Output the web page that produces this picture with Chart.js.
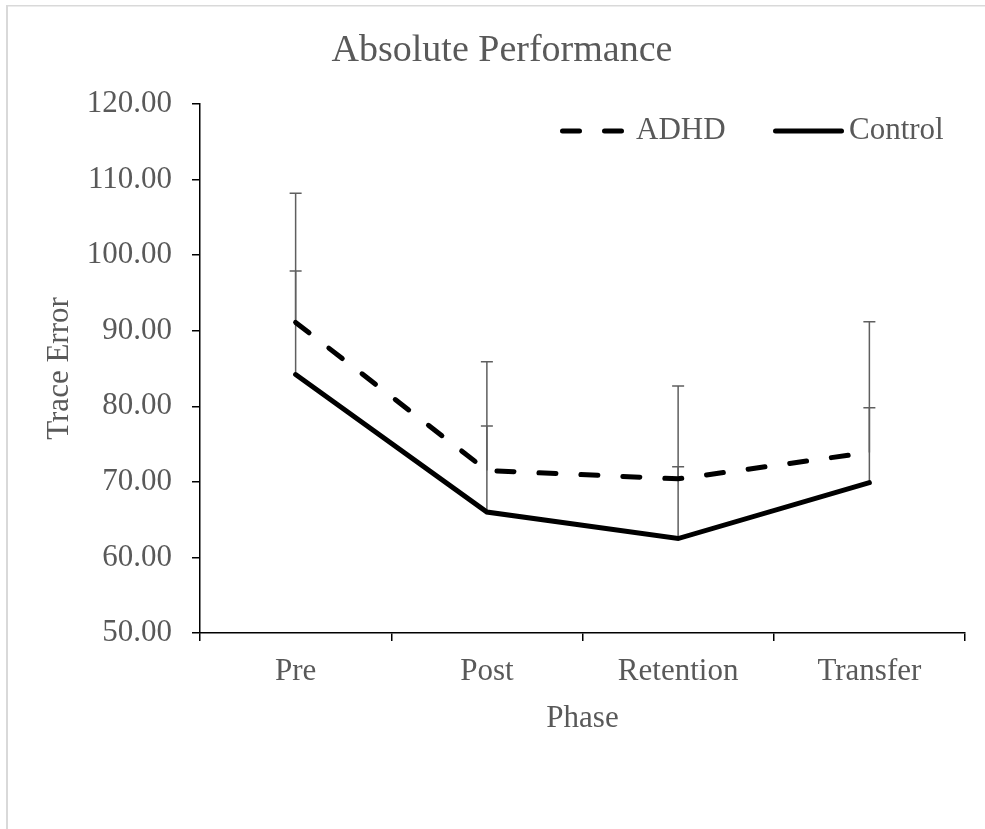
<!DOCTYPE html>
<html>
<head>
<meta charset="utf-8">
<title>Absolute Performance</title>
<script src="https://cdn.jsdelivr.net/npm/chart.js@4/dist/chart.umd.min.js"></script>
<style>
  html, body { margin: 0; padding: 0; background: #ffffff; }
  #chart { display: block; }
</style>
</head>
<body>
<canvas id="chart" width="985" height="829"></canvas>
<script>
// Trace error by phase for the two groups (means with upward SD bars)
const categories = ['Pre', 'Post', 'Retention', 'Transfer'];
const adhdMean = [91.1, 71.5, 70.4, 73.9];
const adhdSD = [17.1, 14.4, 12.3, 17.3];
const controlMean = [84.2, 66.0, 62.5, 69.9];
const controlSD = [13.7, 11.4, 9.5, 9.9];
const seriesNames = ['ADHD', 'Control'];
const yMin = 50;
const yMax = 120;
const yStep = 10;

const SERIF = "'Liberation Serif', 'Times New Roman', serif";
const TEXT_GRAY = '#595959';

// Upward error bars, drawn under the lines
const errorBars = {
  id: 'errorBars',
  beforeDatasetsDraw(chart) {
    const { ctx, scales: { x, y } } = chart;
    ctx.save();
    ctx.strokeStyle = '#5f5f5f';
    ctx.lineWidth = 1.5;
    ctx.setLineDash([]);
    chart.data.datasets.forEach(ds => {
      ds.data.forEach((v, i) => {
        const px = x.getPixelForValue(i);
        const y0 = y.getPixelForValue(v);
        const y1 = y.getPixelForValue(v + ds.sd[i]);
        ctx.beginPath();
        ctx.moveTo(px, y0);
        ctx.lineTo(px, y1);
        ctx.moveTo(px - 6, y1);
        ctx.lineTo(px + 6, y1);
        ctx.stroke();
      });
    });
    ctx.restore();
  }
};

// Light frame around the chart and the legend in the upper right of the plot
const frameAndLegend = {
  id: 'frameAndLegend',
  beforeDraw(chart) {
    const { ctx } = chart;
    ctx.save();
    ctx.fillStyle = '#ffffff';
    ctx.fillRect(0, 0, chart.width, chart.height);
    ctx.fillStyle = '#d9d9d9';
    ctx.fillRect(6, 5, 2, chart.height - 5);
    ctx.fillRect(6, 5, chart.width - 6, 1.5);
    ctx.restore();
  },
  afterDraw(chart) {
    const { ctx } = chart;
    const items = [
      { x0: 562.5, x1: 622.5, tx: 636 },
      { x0: 775.5, x1: 841.5, tx: 849 }
    ];
    const ly = 131;
    ctx.save();
    chart.data.datasets.forEach((ds, i) => {
      const it = items[i];
      ctx.strokeStyle = ds.borderColor;
      ctx.lineWidth = ds.borderWidth;
      ctx.lineCap = 'round';
      ctx.setLineDash(ds.borderDash || []);
      ctx.beginPath();
      ctx.moveTo(it.x0, ly);
      ctx.lineTo(it.x1, ly);
      ctx.stroke();
      ctx.setLineDash([]);
      ctx.fillStyle = TEXT_GRAY;
      ctx.font = '31px ' + SERIF;
      ctx.textBaseline = 'middle';
      ctx.textAlign = 'left';
      ctx.fillText(ds.label, it.tx, ly);
    });
    ctx.restore();
  }
};

Chart.defaults.font.family = SERIF;
Chart.defaults.color = TEXT_GRAY;

new Chart(document.getElementById('chart'), {
  type: 'line',
  data: {
    labels: categories,
    datasets: [
      {
        label: seriesNames[0],
        data: adhdMean,
        sd: adhdSD,
        borderColor: '#000000',
        borderWidth: 5,
        borderDash: [17, 25],
        borderCapStyle: 'round',
        tension: 0,
        pointRadius: 0,
        fill: false
      },
      {
        label: seriesNames[1],
        data: controlMean,
        sd: controlSD,
        borderColor: '#000000',
        borderWidth: 5,
        borderCapStyle: 'round',
        borderJoinStyle: 'miter',
        tension: 0,
        pointRadius: 0,
        fill: false
      }
    ]
  },
  options: {
    responsive: false,
    animation: false,
    devicePixelRatio: 1,
    layout: { padding: { left: 39, right: 20, top: 0, bottom: 0 } },
    plugins: {
      legend: { display: false },
      tooltip: { enabled: false },
      title: {
        display: true,
        text: 'Absolute Performance',
        color: TEXT_GRAY,
        font: { size: 38, weight: 'normal', family: SERIF, lineHeight: 1.2 },
        padding: { top: 28, bottom: 30.4 }
      }
    },
    scales: {
      x: {
        type: 'category',
        offset: true,
        grid: {
          display: true,
          offset: true,
          drawOnChartArea: false,
          drawTicks: true,
          tickLength: 8,
          color: '#000000',
          lineWidth: 1.5
        },
        border: { display: true, color: '#000000', width: 1.5 },
        ticks: {
          color: TEXT_GRAY,
          font: { size: 31, family: SERIF, lineHeight: 1.2 },
          padding: 12,
          maxRotation: 0
        },
        title: {
          display: true,
          text: 'Phase',
          color: TEXT_GRAY,
          font: { size: 31, family: SERIF, lineHeight: 1.2 },
          padding: { top: 0, bottom: 92 }
        },
        afterFit(scale) { scale.height = 196; }
      },
      y: {
        min: yMin,
        max: yMax,
        grid: {
          display: true,
          drawOnChartArea: false,
          drawTicks: true,
          tickLength: 8,
          color: '#000000',
          lineWidth: 1.5
        },
        border: { display: true, color: '#000000', width: 1.5 },
        ticks: {
          stepSize: yStep,
          color: TEXT_GRAY,
          font: { size: 31, family: SERIF, lineHeight: 1.2 },
          padding: 20,
          callback: v => Number(v).toFixed(2)
        },
        title: {
          display: true,
          text: 'Trace Error',
          color: TEXT_GRAY,
          font: { size: 31, family: SERIF, lineHeight: 1.2 },
          padding: { top: 2, bottom: 0 }
        },
        afterFit(scale) { scale.width = 161; }
      }
    }
  },
  plugins: [frameAndLegend, errorBars]
});
</script>
</body>
</html>
